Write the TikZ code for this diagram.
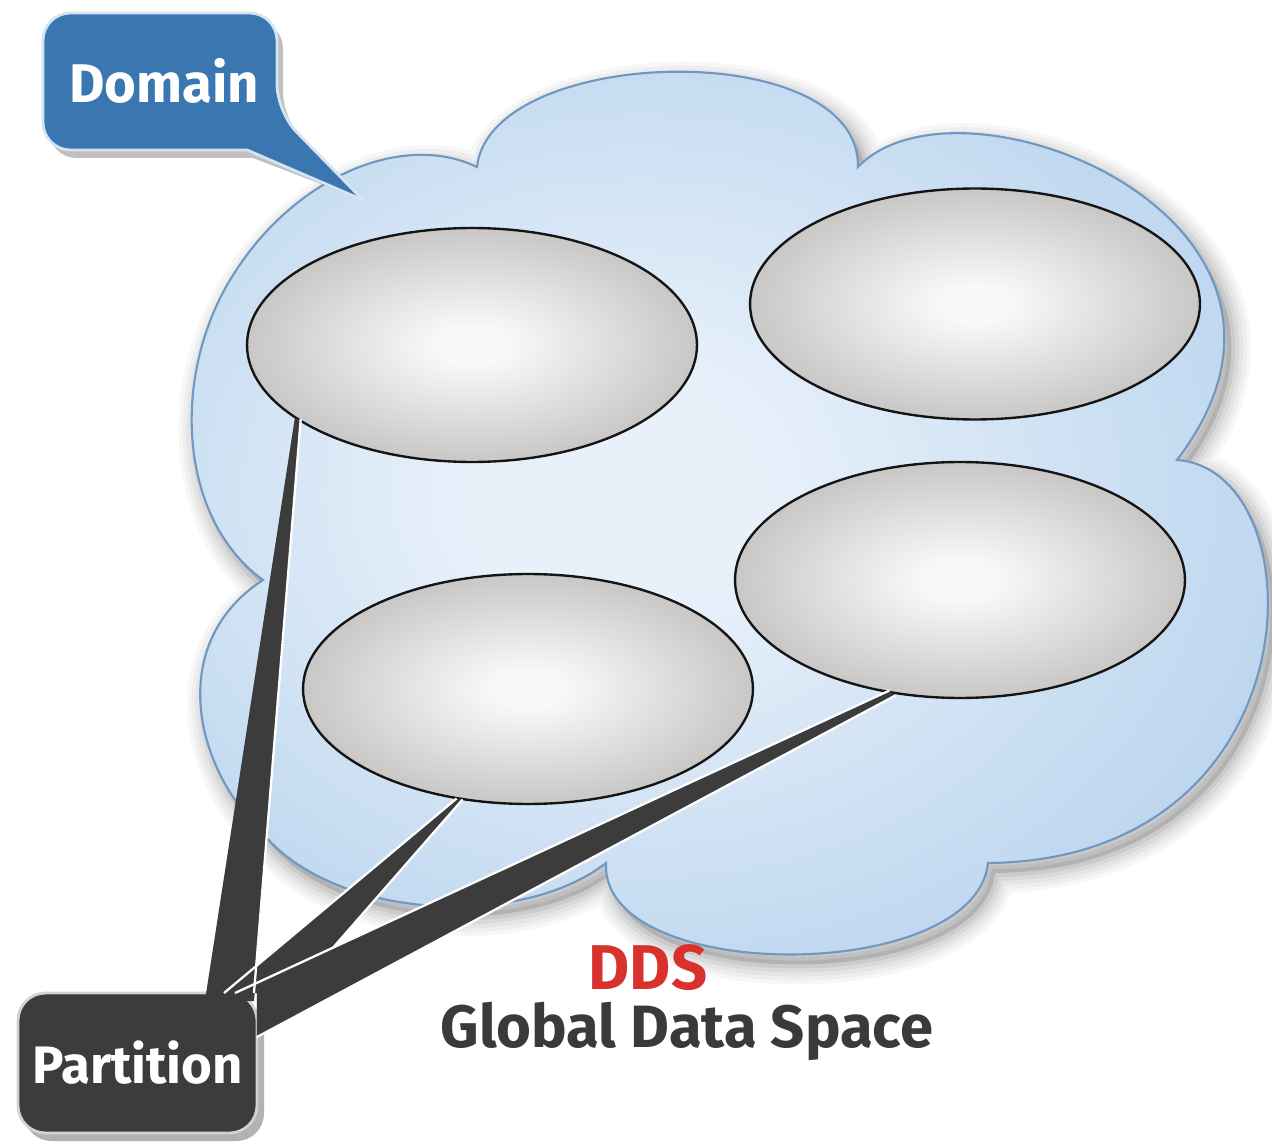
\documentclass[tikz,border=0pt]{standalone}
\usepackage{fontspec}
\setmainfont{Fira Sans}
\usetikzlibrary{calc,shapes.geometric}

\definecolor{cloudedge}{HTML}{6F97C2}
\definecolor{cloudout}{HTML}{9DC1E5}
\definecolor{cloudrim}{HTML}{A7C8EA}
\definecolor{cloudmid}{HTML}{BDD6EF}
\definecolor{cloudin}{HTML}{E8F1FA}
\definecolor{ellout}{HTML}{9B9997}
\definecolor{ellmid}{HTML}{C6C5C4}
\definecolor{ellin}{HTML}{F8F8F8}
\definecolor{wedgegray}{HTML}{3C3C3C}
\definecolor{domblue}{HTML}{3A77B1}
\definecolor{domedge}{HTML}{D4E4F2}
\definecolor{partedge}{HTML}{D2D2D2}
\definecolor{ddsred}{HTML}{D8312E}
\definecolor{gdstext}{HTML}{3A3A3C}

\pgfdeclareradialshading{ellshade}{\pgfpoint{0bp}{0bp}}{color(0bp)=(ellin); color(4bp)=(ellin); color(26bp)=(ellmid); color(50bp)=(ellout)}
\pgfdeclareradialshading{cloudshade}{\pgfpoint{-7bp}{1bp}}{color(0bp)=(cloudin); color(6bp)=(cloudin); color(27bp)=(cloudmid); color(42bp)=(cloudrim); color(72bp)=(cloudout)}

\def\cloudpath{(263,580) .. controls (180,520) and (170,380) .. (230,280) .. controls (290,180) and (400,130) .. (477,167) .. controls (490,45) and (860,35) .. (858,167) .. controls (960,60) and (1360,220) .. (1177,460) .. controls (1320,470) and (1320,860) .. (988,863) .. controls (975,985) and (600,985) .. (606,863) .. controls (520,930) and (330,920) .. (260,830) .. controls (190,760) and (170,640) .. (263,580) -- cycle}

\tikzset{
  partell/.style={ellipse, inner sep=0pt, outer sep=0pt, shading=ellshade, draw=black!92, line width=1.35pt},
  partbox/.style={rectangle, rounded corners=0.55cm, fill=wedgegray, draw=partedge, line width=1.6pt,
    minimum width=4.78cm, minimum height=2.8cm, inner sep=0pt, outer sep=0pt, text=white,
    font=\fontsize{30}{36}\selectfont\bfseries},
  wedge/.style={fill=wedgegray},
  wedgeshadow/.style={fill=black, opacity=0.2},
  whiteedge/.style={draw=white, line width=1.3pt},
  lbl/.style={inner sep=0pt, anchor=base}
}

\begin{document}
\begin{tikzpicture}[x=0.02cm, y=-0.02cm]
\useasboundingbox (0,0) rectangle (1272,1145);

% cloud shadow (soft)
\begin{scope}[shift={(7,10)}]
  \foreach \w/\o in {40/0.03, 32/0.035, 24/0.04, 16/0.05, 8/0.065}{
    \draw[black, opacity=\o, line width=\w*0.2mm, line join=round] \cloudpath;
  }
  \fill[black, opacity=0.12] \cloudpath;
\end{scope}

% cloud
\path[shading=cloudshade, draw=cloudedge, line width=1.2pt] \cloudpath;

% partitions (ellipses)
\node[partell, minimum width=9cm, minimum height=4.68cm] (el1) at (472,345) {};
\node[partell, minimum width=9cm, minimum height=4.62cm] (el2) at (975,304) {};
\node[partell, minimum width=9cm, minimum height=4.6cm] (el3) at (528,689) {};
\node[partell, minimum width=9cm, minimum height=4.72cm] (el4) at (960,580) {};

% Partition label box
\fill[black, opacity=0.3, rounded corners=0.55cm] (24,1001) rectangle (264,1141);
\node[partbox] (part) at (137.5,1063) {Partition};

% connector endpoints
\coordinate (a1) at (el1.203);
\coordinate (c1) at (el3.238);
\coordinate (d1) at (el4.239);
\coordinate (U) at ($(part.north east)+(-22,0)$);
\coordinate (m) at ($($(d1)+(-3,-2)$)!0.85!(U)$);

% wedge shadows
\begin{scope}[shift={(6,8)}]
  \fill[wedgeshadow] ($(a1)+(-3,0)$) -- ($(a1)+(3,0)$) -- ($(part.north east)+(-3,8)$) -- ($(part.north east)+(-52,8)$) -- cycle;
  \fill[wedgeshadow] ($(c1)+(-3,0)$) -- ($(c1)+(3,1)$) -- (m) -- (U) -- ($(part.north east)+(-33,0)$) -- cycle;
  \fill[wedgeshadow] ($(d1)+(-3,-2)$) -- ($(d1)+(3,3)$) -- ($(part.north east)+(0,44)$) -- (part.north east) -- (U) -- cycle;
\end{scope}

% wedges (connectors from Partition to each partition ellipse)
\fill[wedge] ($(a1)+(-3,0)$) -- ($(a1)+(3,0)$) -- ($(part.north east)+(-3,8)$) -- ($(part.north east)+(-52,8)$) -- cycle;
\fill[wedge] ($(c1)+(-3,0)$) -- ($(c1)+(3,1)$) -- (m) -- (U) -- ($(part.north east)+(-33,0)$) -- cycle;
\fill[wedge] ($(d1)+(-3,-2)$) -- ($(d1)+(3,3)$) -- ($(part.north east)+(0,44)$) -- ($(part.north east)+(0,10)$) -- (part.north east) -- (U) -- cycle;

% white edges
\draw[whiteedge] ($(a1)+(3,0)$) -- ($(part.north east)+(-3,0)$);
\draw[whiteedge] ($(c1)+(-3,0)$) -- ($(part.north east)+(-33,0)$);
\draw[whiteedge] ($(c1)+(3,1)$) -- (m);
\draw[whiteedge] ($(d1)+(-3,-2)$) -- (U);
\draw[whiteedge] ($(d1)+(3,3)$) -- ($(part.north east)+(0,44)$);

% Domain callout
\coordinate (tip) at (363,200);
\begin{scope}[shift={(6,8)}]
  \fill[black, opacity=0.25] (160,13) [rounded corners=0.55cm] -- (277,13) -- (277,112) [sharp corners] -- (tip) -- (247,150) [rounded corners=0.55cm] -- (43,150) -- (43,13) -- cycle;
\end{scope}
\path[fill=domblue, draw=domedge, line width=1.6pt, line join=round] (160,13) [rounded corners=0.55cm] -- (277,13) -- (277,112) [sharp corners] -- (tip) -- (247,150) [rounded corners=0.55cm] -- (43,150) -- (43,13) -- cycle;
\node[lbl, text=white, font=\fontsize{31}{36}\selectfont\bfseries] (dom) at (164,103) {Domain};

% DDS caption
\node[lbl, text=ddsred, text depth=0pt, font=\fontsize{36}{42}\selectfont\bfseries] (dds) at (648,989) {DDS};
\node[lbl, text=gdstext, text height=0.68em, font=\fontsize{34}{40}\selectfont\bfseries] (gds) at (687,1047) {Global Data Space};
\end{tikzpicture}
\end{document}
